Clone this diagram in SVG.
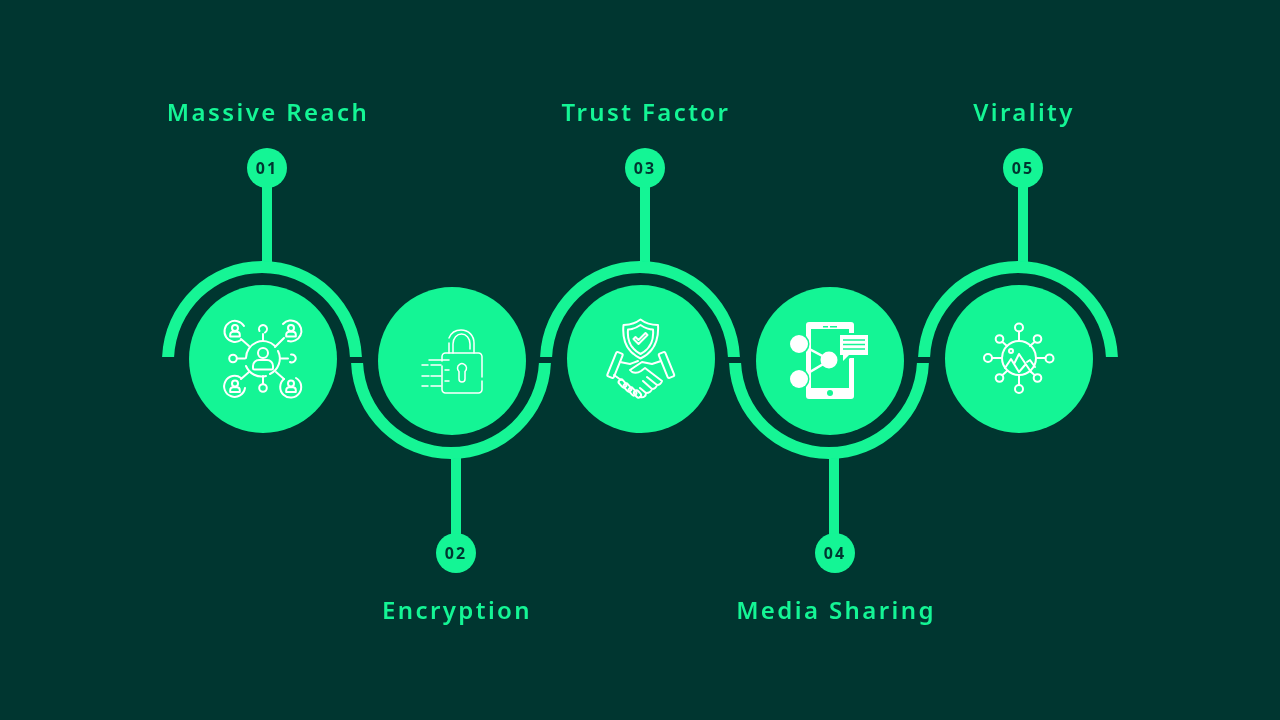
<svg xmlns="http://www.w3.org/2000/svg" width="1280" height="720" viewBox="0 0 1280 720">
<style>
.g{fill:#14f595}
.lbl{font-family:"Noto Sans","Open Sans",sans-serif;font-size:24px;font-weight:600;letter-spacing:2.4px;fill:#14f595;text-anchor:middle}
.num{font-family:"Noto Sans","Open Sans",sans-serif;font-size:16px;font-weight:700;letter-spacing:2px;fill:#003630;text-anchor:middle}
.ic{fill:none;stroke:#fff;stroke-width:2;stroke-linecap:round;stroke-linejoin:round}
.thin{stroke-width:1.5}
.w{fill:#fff}
.sc{fill:#14f595}
</style>
<defs>
<filter id="soft" x="-5%" y="-5%" width="110%" height="110%"><feGaussianBlur stdDeviation="0.5"/></filter>
<path id="arcT" class="g" d="M-99.92 -4A100 100 0 0 1 99.92 -4H87.91A88 88 0 0 0 -87.91 -4Z"/>
<path id="arcB" class="g" d="M-99.92 4A100 100 0 0 0 99.92 4H87.91A88 88 0 0 1 -87.91 4Z"/>
<g id="p"><circle cx="0" cy="-3" r="3"/><path d="M-4.800 5.500v-1.800a3 3 0 0 1 3-3h3.600a3 3 0 0 1 3 3v1.800z"/></g>
</defs>
<rect width="1280" height="720" fill="#003630"/>
<g id="connectors">
<rect class="g" x="262" y="185" width="10" height="78"/>
<rect class="g" x="451" y="457" width="10" height="80"/>
<rect class="g" x="640" y="185" width="10" height="78"/>
<rect class="g" x="829" y="457" width="10" height="80"/>
<rect class="g" x="1018" y="185" width="10" height="78"/>
<g filter="url(#soft)">
<use href="#arcT" x="262" y="361"/>
<use href="#arcB" x="451" y="359"/>
<use href="#arcT" x="640" y="361"/>
<use href="#arcB" x="829" y="359"/>
<use href="#arcT" x="1018" y="361"/>
</g>
</g>
<g id="node1">
<text class="lbl" x="268" y="121">Massive Reach</text>
<circle class="g" cx="267" cy="168" r="20"/><text class="num" x="267" y="174">01</text>
<circle class="g" cx="263" cy="359" r="74"/>
<g class="ic">
<path d="M246 358A17 17 0 0 1 275 346M278 351A17 17 0 0 1 270 374M266 376A17 17 0 0 1 246 366"/>
<circle cx="263" cy="353" r="5"/><path d="M253 368v-2a6 6 0 0 1 6-6h8a6 6 0 0 1 6 6v2a1.500 1.500 0 0 1-1.500 1.500h-17a1.500 1.500 0 0 1-1.500-1.500z"/>
<path d="M263 341V334M259.500 331A4 4 0 1 1 265 332.500"/>
<circle cx="263" cy="388" r="3.800"/><path d="M263 376V384"/>
<circle cx="233" cy="358.500" r="3.800"/><path d="M237 358.500H245"/>
<path d="M280 358.500H288M291 354.500A4 4 0 1 1 290 362"/>
<path d="M249 346L241 339M275 347L284 338M249 372L241 379M276 372L284 379"/>
<path d="M244 326A10.500 10.500 0 1 0 241 340"/>
<path d="M283 324A10.500 10.500 0 1 1 288 341"/>
<path d="M245 388A10.500 10.500 0 1 1 241 378"/>
<path d="M284 379A10.500 10.500 0 1 0 296 378"/>
<g transform="translate(235 331)"><use href="#p"/></g><g transform="translate(291 331)"><use href="#p"/></g><g transform="translate(235 386.500)"><use href="#p"/></g><g transform="translate(291 386.500)"><use href="#p"/></g>
</g>
</g>
<g id="node2">
<text class="lbl" x="457" y="619">Encryption</text>
<circle class="g" cx="456" cy="553" r="20"/><text class="num" x="456" y="559">02</text>
<circle class="g" cx="452" cy="361" r="74"/>
<g class="ic thin">
<path d="M442 361V356.500a3.500 3.500 0 0 1 3.500-3.500h33a3.500 3.500 0 0 1 3.500 3.500V377M482 381V389.500a3.500 3.500 0 0 1-3.500 3.500h-33a3.500 3.500 0 0 1-3.500-3.500V366M442 370V374M442 379V384"/>
<path d="M449 353V343M449 338C451 333 455 330 461 330C469 330 474 336 474 343V353M453 353V344C453 338 457 334 461.500 334C466 334 470 338 470 344V349"/>
<path d="M457.500 368A4.500 4.500 0 1 1 465 371.500V379a3 3 0 0 1-6 0V371.500A4.500 4.500 0 0 1 457.500 368z"/>
<path d="M429 360H449M422 365H428M431 365H441M445 370H449M422 376H429M431 376H441M445 381H449M422 386H428M431 386H441"/>
</g>
</g>
<g id="node3">
<text class="lbl" x="646" y="121">Trust Factor</text>
<circle class="g" cx="645" cy="168" r="20"/><text class="num" x="645" y="174">03</text>
<circle class="g" cx="641" cy="359" r="74"/>
<g class="ic">
<path d="M640.500 319.500C645 323 651 325 658 325C659 340 654 352 640.500 358.500C627 352 622 340 623.500 325C630 325 636 323 640.500 319.500Z"/>
<path d="M640.500 325C645 328 649 329.500 653 329.500C654 340 650 349 640.500 354C631 349 627 340 628 329.500C632 329.500 636 328 640.500 325Z"/>
<path d="M633.500 339L638.500 344L647.500 335L645.500 333L638.500 340L635.500 337Z"/>
<rect x="611.500" y="352" width="7" height="26" rx="1.500" transform="rotate(22 615 365)"/>
<rect x="663" y="352" width="7" height="26" rx="1.500" transform="rotate(-22 666.500 365)"/>
<path d="M620 362L630 364L638 361M661 361L652 364L642 362L630 370C633 374 638 373 641 371L645 368L662 381C661 384 659 385 657 385L647 377M657 385C656 388 654 389 652 389L643 381M652 389C651 392 649 393 646 393L640 388"/>
<path d="M614 375L621 380"/>
<rect x="620" y="379" width="5" height="9" rx="2.500" transform="rotate(-42 622.500 383.500)"/>
<rect x="625" y="383" width="5" height="9" rx="2.500" transform="rotate(-42 627.500 387.500)"/>
<rect x="630" y="387" width="5" height="9" rx="2.500" transform="rotate(-42 632.500 391.500)"/>
<rect x="635" y="390" width="5" height="8" rx="2.500" transform="rotate(-42 637.500 394)"/>
<path d="M640 397C644 398 646 396 646 393"/>
</g>
</g>
<g id="node4">
<text class="lbl" x="836" y="619">Media Sharing</text>
<circle class="g" cx="835" cy="553" r="20"/><text class="num" x="835" y="559">04</text>
<circle class="g" cx="830" cy="361" r="74"/>
<rect class="w" x="806" y="322" width="48" height="77" rx="3"/>
<rect class="sc" x="811" y="329" width="38" height="59"/>
<circle class="sc" cx="830" cy="393" r="3"/>
<rect class="sc" x="823" y="326" width="5" height="1.500"/><rect class="sc" x="830" y="326" width="7" height="1.500"/>
<path class="sc" d="M838 333H871V358H850L841 366V358H838Z"/>
<path class="w" d="M840 335H868V355H849L843 361V355H840Z"/>
<path d="M843 340H865M843 344.500H865M843 349H865" fill="none" stroke="#14f595" stroke-width="1.400"/>
<path d="M798 343L830 360L798 379" fill="none" stroke="#fff" stroke-width="2.500"/>
<circle class="sc" cx="799" cy="344" r="10.500"/><circle class="sc" cx="799" cy="379" r="10.500"/>
<circle class="w" cx="799" cy="344" r="9"/><circle class="w" cx="829" cy="360" r="8.500"/><circle class="w" cx="799" cy="379" r="9"/>
</g>
<g id="node5">
<text class="lbl" x="1024" y="121">Virality</text>
<circle class="g" cx="1023" cy="168" r="20"/><text class="num" x="1023" y="174">05</text>
<circle class="g" cx="1019" cy="359" r="74"/>
<g class="ic">
<circle cx="1019" cy="358" r="17"/>
<circle cx="1019" cy="327.500" r="4"/><path d="M1019 331.500V341"/>
<circle cx="1019" cy="389" r="4"/><path d="M1019 375V385"/>
<circle cx="988" cy="358" r="4"/><path d="M992 358H1002"/>
<circle cx="1049.500" cy="358.500" r="4"/><path d="M1036 358H1045.500"/>
<circle cx="999.500" cy="339" r="3.800"/><path d="M1002.500 342L1007 346"/>
<circle cx="1037.500" cy="339" r="3.800"/><path d="M1034.500 342L1030 346"/>
<circle cx="999.500" cy="378" r="3.800"/><path d="M1002.500 375L1007 371"/>
<circle cx="1037.500" cy="378" r="3.800"/><path d="M1034.500 375L1030 371"/>
<circle cx="1011" cy="351" r="2"/>
<path d="M1005 368L1011 359L1019 372L1025 365M1014 364L1019 354L1031 372M1027 362L1030 360L1035 367"/>
</g>
</g>
</svg>
